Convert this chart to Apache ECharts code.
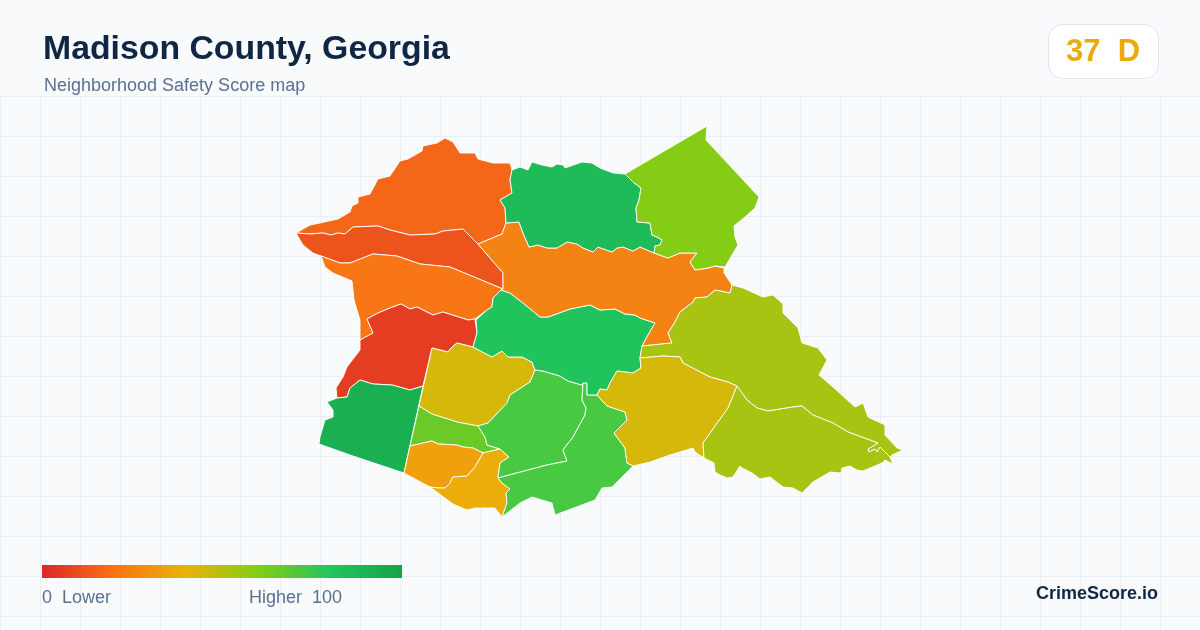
<!DOCTYPE html>
<html><head><meta charset="utf-8">
<style>html,body{margin:0;padding:0;background:#f8fafc}#c{width:1200px;height:630px}</style>
<script src="https://cdn.jsdelivr.net/npm/echarts@6/dist/echarts.min.js"></script>
</head><body><div id="c"></div>
<script>
var tractNames = ['Northwest','Band North','Band South','Southwest Red','Far Southwest','West Centre','West Lime','South Amber','South Gold','South Centre','South Ridge','Middle','Central','North','Northeast','East','East Centre','Southeast'];
var tractScores = [17,12,21,6,93,44,65,34,38,72,72,81,25,86,60,53,44,53];
var legendStops = ['#dc2626','#f97316','#eab308','#84cc16','#22c55e','#16a34a'];
var gridTicks = 40;

var northwest=[[296,233],[310,225],[320,223],[338,219],[350,212],[352,206],[358,203],[358,197],[370,194],[378,179],[390,176],[400,161],[408,159],[422,151],[423,146],[437,143],[445,138],[453,142],[460,153],[475,153],[478,159],[493,163],[510,163],[512,170],[510,180],[512,193],[500,200],[505,208],[506,223],[502,234],[490,239],[478,244],[463,229],[443,231],[435,234],[410,235],[390,230],[378,226],[353,227],[345,234],[338,233],[331,235],[323,233],[310,234]];
var bandNorth=[[296,233],[310,234],[323,233],[331,235],[338,233],[345,234],[353,227],[378,226],[390,230],[410,235],[435,234],[443,231],[463,229],[478,244],[503,273],[503,289],[450,267],[420,264],[397,256],[373,254],[350,263],[340,263],[321,256],[313,253],[303,245]];
var bandSouth=[[321,256],[340,263],[350,263],[373,254],[397,256],[420,264],[450,267],[503,289],[501,290],[493,298],[492,307],[487,310],[475,319],[468,320],[443,312],[433,315],[417,307],[410,309],[401,304],[390,308],[378,313],[367,319],[373,333],[360,340],[360,320],[354,300],[352,281],[333,273],[325,267]];
var southwestRed=[[367,319],[378,313],[390,308],[401,304],[410,309],[417,307],[433,315],[443,312],[468,320],[475,319],[476,320],[477,333],[473,347],[457,343],[452,347],[448,352],[432,348],[423,386],[410,390],[392,385],[373,384],[360,380],[350,388],[347,397],[337,398],[336,388],[343,377],[347,367],[360,350],[360,340],[373,333]];
var farSouthwest=[[337,398],[347,397],[350,388],[360,380],[373,384],[392,385],[410,390],[423,386],[404,473],[353,456],[319,444],[320,437],[325,420],[333,417],[333,410],[327,402]];
var westCentre=[[432,348],[448,352],[452,347],[457,343],[473,347],[492,357],[502,351],[508,357],[522,357],[532,362],[535,370],[530,382],[510,395],[507,403],[488,423],[478,426],[457,422],[432,414],[419,406]];
var westLime=[[419,406],[432,414],[457,422],[478,426],[485,437],[487,445],[500,449],[483,453],[473,448],[463,447],[457,445],[438,444],[432,441],[410,446]];
var southAmber=[[410,446],[432,441],[438,444],[457,445],[463,447],[473,448],[483,453],[475,467],[467,476],[453,477],[450,483],[445,488],[438,488],[430,487],[404,473]];
var southGold=[[483,453],[500,449],[509,457],[500,463],[498,478],[502,483],[510,489],[506,493],[507,503],[502,517],[495,508],[483,508],[475,508],[467,510],[453,504],[430,487],[438,488],[445,488],[450,483],[453,477],[467,476],[475,467]];
var southCentre=[[535,370],[543,371],[560,376],[568,381],[582,385],[583,383],[582,400],[586,408],[585,415],[573,437],[563,450],[567,461],[547,465],[498,478],[500,463],[509,457],[500,449],[487,445],[485,437],[478,426],[488,423],[507,403],[510,395],[530,382]];
var southRidge=[[583,383],[587,383],[587,395],[597,395],[607,406],[625,412],[627,420],[614,433],[625,448],[627,463],[633,466],[612,487],[602,488],[595,500],[555,515],[552,503],[532,497],[520,503],[502,517],[507,503],[506,493],[510,489],[502,483],[498,478],[547,465],[567,461],[563,450],[573,437],[585,415],[586,408],[582,400]];
var middle=[[501,290],[510,293],[523,303],[540,317],[548,317],[570,309],[590,305],[600,310],[615,309],[625,314],[635,315],[640,318],[655,323],[648,335],[642,346],[640,358],[641,368],[633,373],[617,371],[610,383],[607,390],[600,389],[597,395],[587,395],[587,383],[583,383],[582,385],[568,381],[560,376],[543,371],[535,370],[532,362],[522,357],[508,357],[502,351],[492,357],[473,347],[477,333],[476,320],[475,319],[487,310],[492,307],[493,298]];
var central=[[478,244],[490,239],[502,234],[506,223],[519,222],[523,233],[529,247],[538,245],[547,248],[557,248],[567,242],[577,244],[583,248],[593,252],[598,247],[612,252],[617,248],[623,247],[633,251],[640,247],[654,253],[668,258],[680,253],[697,253],[690,262],[695,270],[708,268],[715,266],[724,268],[724,273],[730,282],[732,285],[730,293],[715,290],[707,297],[695,298],[693,302],[680,312],[675,322],[668,333],[672,343],[642,346],[648,335],[655,323],[640,318],[635,315],[625,314],[615,309],[600,310],[590,305],[570,309],[548,317],[540,317],[523,303],[510,293],[501,290],[503,289],[503,273]];
var north=[[512,170],[520,167],[528,170],[532,162],[542,165],[552,167],[557,164],[563,165],[565,168],[582,162],[592,163],[600,168],[613,173],[625,174],[633,182],[641,188],[639,200],[636,208],[637,222],[650,223],[652,235],[657,237],[662,240],[660,245],[655,246],[654,253],[640,247],[633,251],[623,247],[617,248],[612,252],[598,247],[593,252],[583,248],[577,244],[567,242],[557,248],[547,248],[538,245],[529,247],[523,233],[519,222],[506,223],[505,208],[500,200],[512,193],[510,180]];
var northeast=[[625,174],[707,126],[706,140],[759,197],[755,208],[745,217],[734,226],[735,237],[738,245],[725,267],[724,268],[715,266],[708,268],[695,270],[690,262],[697,253],[680,253],[668,258],[654,253],[655,246],[660,245],[662,240],[657,237],[652,235],[650,223],[637,222],[636,208],[639,200],[641,188],[633,182]];
var east=[[732,285],[743,288],[763,297],[773,295],[783,304],[783,313],[798,328],[802,343],[818,348],[827,360],[819,375],[833,387],[855,407],[863,403],[868,417],[885,425],[885,435],[897,448],[903,450],[892,455],[890,457],[880,447],[877,452],[875,449],[869,452],[868,449],[878,443],[848,432],[833,423],[813,415],[802,406],[793,407],[768,411],[757,408],[747,400],[737,386],[728,382],[710,377],[683,363],[680,357],[663,356],[640,358],[642,346],[672,343],[668,333],[675,322],[680,312],[693,302],[695,298],[707,297],[715,290],[730,293]];
var eastCentre=[[640,358],[663,356],[680,357],[683,363],[710,377],[728,382],[737,386],[728,408],[703,443],[704,458],[695,452],[693,448],[670,455],[650,462],[633,466],[627,463],[625,448],[614,433],[627,420],[625,412],[607,406],[597,395],[600,389],[607,390],[610,383],[617,371],[633,373],[641,368]];
var southeast=[[737,386],[747,400],[757,408],[768,411],[793,407],[802,406],[813,415],[833,423],[848,432],[878,443],[868,449],[869,452],[875,449],[877,452],[880,447],[890,457],[893,464],[885,460],[882,463],[863,471],[857,470],[850,466],[842,468],[841,473],[830,472],[813,482],[802,493],[793,488],[783,487],[770,477],[760,479],[752,473],[742,468],[740,466],[733,477],[727,478],[720,475],[715,472],[714,463],[704,458],[703,443],[728,408]];

var outlines=[northwest,bandNorth,bandSouth,southwestRed,farSouthwest,westCentre,westLime,southAmber,southGold,southCentre,southRidge,middle,central,north,northeast,east,eastCentre,southeast];

var geo={type:'FeatureCollection',features:outlines.map(function(o,i){
  var ring=o.map(function(p){return [p[0],-p[1]];}); ring.push(ring[0]);
  return {type:'Feature',properties:{name:tractNames[i]},geometry:{type:'Polygon',coordinates:[ring]}};
})};
echarts.registerMap('madison',geo);

var chart=echarts.init(document.getElementById('c'),null,{renderer:'canvas'});
var font='"Liberation Sans",Arial,sans-serif';
var ink='#0f2744', slate='#5a7190';
function txt(x,y,s,size,weight,color,align){
  return {type:'text',x:x,y:y,silent:true,z:10,style:{text:s,fill:color,font:weight+' '+size+'px '+font,textAlign:align||'left',textVerticalAlign:'middle'}};
}
chart.setOption({
  animation:false,
  backgroundColor:'#f8fafc',
  grid:{left:0,right:0,top:96,bottom:0,show:false},
  xAxis:{type:'value',min:0,max:1200,interval:gridTicks,axisLine:{show:false},axisTick:{show:false},axisLabel:{show:false},
    splitLine:{show:true,lineStyle:{color:'#e8eff4',width:1}}},
  yAxis:{type:'value',inverse:true,min:0,max:534,interval:gridTicks,axisLine:{show:false},axisTick:{show:false},axisLabel:{show:false},
    splitLine:{show:true,lineStyle:{color:'#e8eff4',width:1}}},
  visualMap:{type:'continuous',show:false,min:0,max:100,seriesIndex:0,inRange:{color:legendStops}},
  series:[{type:'map',map:'madison',aspectScale:1,left:0,top:0,width:1200,height:630,
    boundingCoords:[[0,0],[1200,-630]],roam:false,silent:true,selectedMode:false,
    label:{show:false},emphasis:{disabled:true},
    itemStyle:{borderColor:'#ffffff',borderWidth:0.9},
    data:tractNames.map(function(n,i){return {name:n,value:tractScores[i]};})}],
  graphic:[
    txt(43,49.5,'Madison County, Georgia',33.8,'bold',ink),
    txt(44,86,'Neighborhood Safety Score map',18,'normal',slate),
    {type:'rect',silent:true,z:9,shape:{x:1048.5,y:24.5,width:110,height:54,r:14},style:{fill:'#ffffff',stroke:'#e0e6ee',lineWidth:1}},
    txt(1103,52.5,'37  D',31,'bold','#eaab0c','center'),
    {type:'rect',silent:true,z:9,shape:{x:42,y:565,width:360,height:13},style:{fill:new echarts.graphic.LinearGradient(0,0,1,0,legendStops.map(function(c,i){return {offset:i/(legendStops.length-1),color:c};}))}},
    txt(42,598,'0  Lower',18,'normal',slate),
    txt(249,598,'Higher  100',18,'normal',slate),
    txt(1158,594,'CrimeScore.io',18,'bold',ink,'right')
  ]
});
</script></body></html>
